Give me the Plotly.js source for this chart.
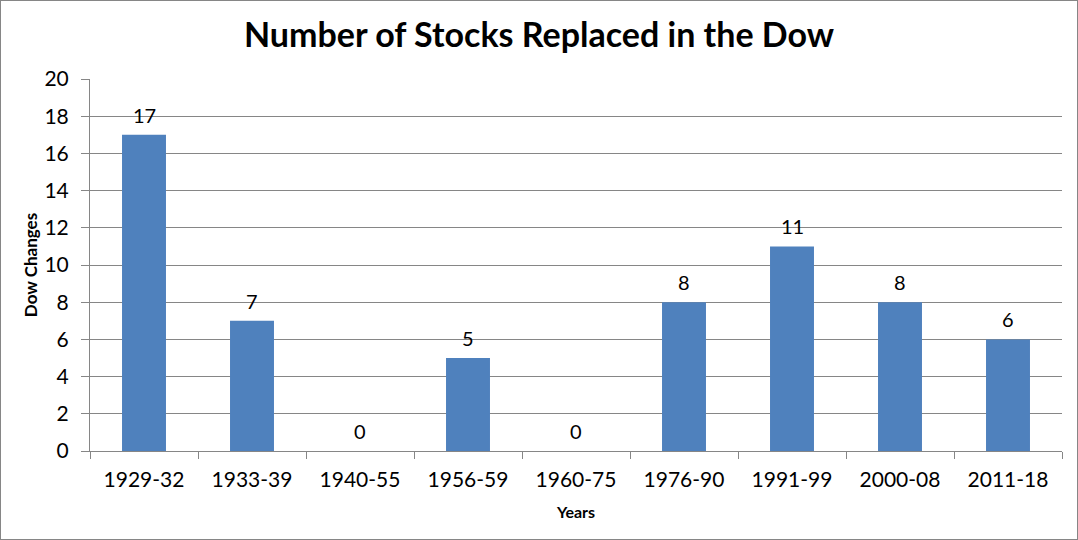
<!DOCTYPE html>
<html>
<head>
<meta charset="utf-8">
<script src="https://cdn.plot.ly/plotly-3.0.1.min.js"></script>
<style>
html,body{margin:0;padding:0;background:#fff;}
#chart{width:1076px;height:538px;border:1px solid #868686;}
</style>
</head>
<body>
<div id="chart"></div>
<script>
var categories = ["1929-32","1933-39","1940-55","1956-59","1960-75","1976-90","1991-99","2000-08","2011-18"];
var changes = [17, 7, 0, 5, 0, 8, 11, 8, 6];
var yTicks = [0,2,4,6,8,10,12,14,16,18,20];

var FONT = "Lato, 'Open Sans', sans-serif";

var annotations = categories.map(function(c, i){
  return {x: c, y: changes[i], xref:'x', yref:'y', text: String(changes[i]),
    showarrow:false, yanchor:'bottom', yshift:6,
    font:{family:FONT, size:20, color:'#000'}};
});

var trace = {
  type:'bar', x: categories, y: changes,
  marker:{color:'#4F81BD'}, hoverinfo:'none'
};

var layout = {
  width:1076, height:538,
  margin:{l:89, r:15, t:78, b:88},
  paper_bgcolor:'#fff', plot_bgcolor:'#fff',
  bargap:0.593,
  title:{text:'<b>Number of Stocks Replaced in the Dow</b>', x:0.5, xanchor:'center', y:0.937, yanchor:'middle',
    font:{family:FONT, size:34, color:'#000'}},
  xaxis:{type:'category', showgrid:false, showline:true, linecolor:'#868686', linewidth:1,
    ticks:'outside', ticklen:7, tickcolor:'#868686', tickson:'boundaries',
    ticklabelstandoff:10,
    tickfont:{family:FONT, size:21, color:'#000'},
    title:{text:'<b>Years</b>', font:{family:FONT, size:16, color:'#000'}, standoff:16}},
  yaxis:{range:[0,20], tickvals:yTicks, showgrid:true, gridcolor:'#868686', gridwidth:1,
    showline:true, linecolor:'#868686', linewidth:1, zeroline:false,
    ticks:'outside', ticklen:8, tickcolor:'#868686',
    ticklabelstandoff:8,
    tickfont:{family:FONT, size:21, color:'#000'},
    title:{text:'<b>Dow Changes</b>', font:{family:FONT, size:17, color:'#000'}, standoff:2}},
  annotations: annotations,
  showlegend:false
};

Plotly.newPlot('chart', [trace], layout, {displayModeBar:false, staticPlot:true});
</script>
</body>
</html>
